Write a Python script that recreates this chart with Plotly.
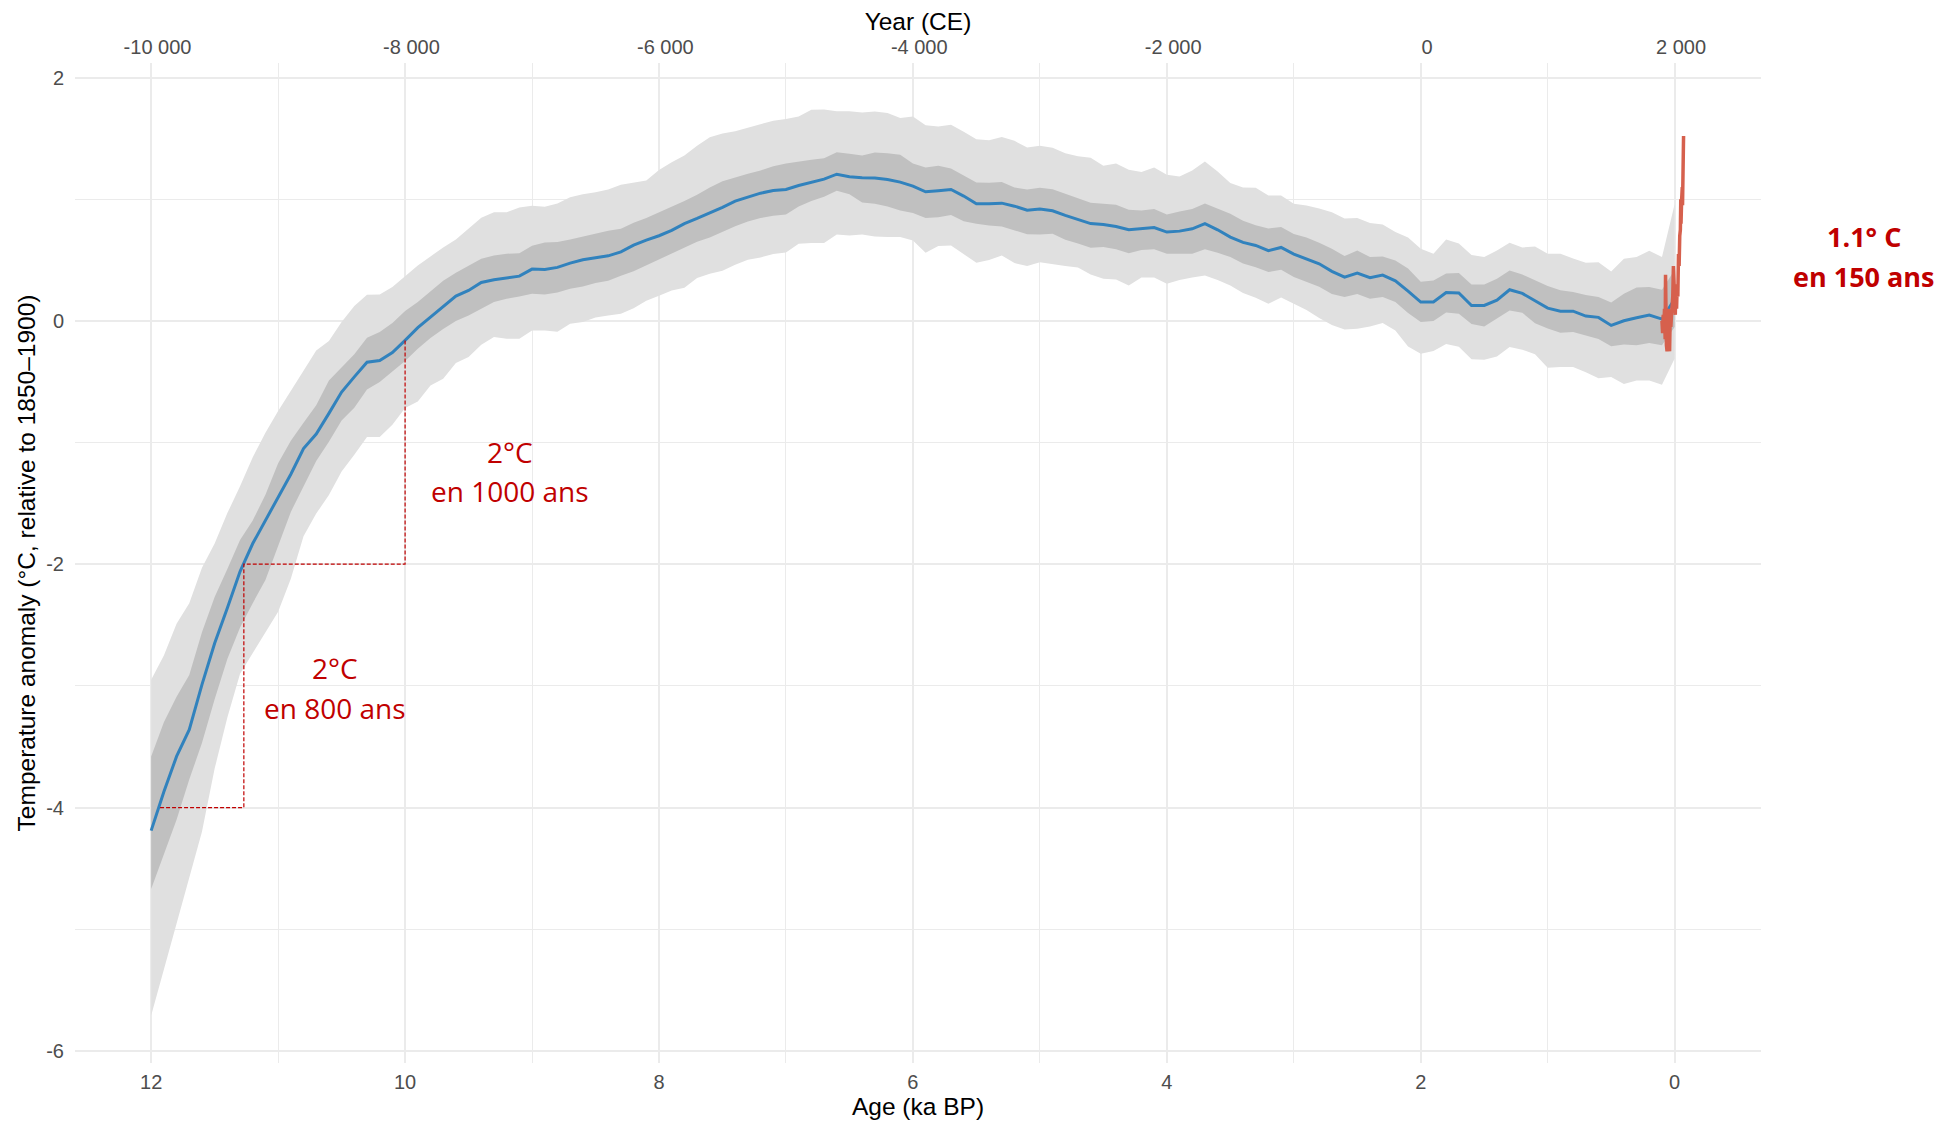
import plotly.graph_objects as go

# ---------------- data ----------------
ka = [round(12.0 - 0.1 * i, 1) for i in range(121)]  # Age (ka BP), 12.0 -> 0.0

temp_median = [
    -4.19, -3.87, -3.58, -3.36, -2.99, -2.65, -2.36, -2.06, -1.83, -1.64,
    -1.46, -1.26, -1.05, -0.93, -0.76, -0.585, -0.46, -0.34, -0.325, -0.26,
    -0.16, -0.056, 0.031, 0.114, 0.204, 0.25, 0.316, 0.338, 0.355, 0.368,
    0.426, 0.423, 0.44, 0.475, 0.503, 0.52, 0.535, 0.568, 0.623, 0.664,
    0.70, 0.744, 0.80, 0.842, 0.886, 0.933, 0.985, 1.02, 1.05, 1.072,
    1.08, 1.113, 1.141, 1.165, 1.206, 1.185, 1.176, 1.174, 1.163, 1.141,
    1.108, 1.061, 1.07, 1.08, 1.026, 0.963, 0.963, 0.968, 0.943, 0.91,
    0.919, 0.905, 0.867, 0.831, 0.80, 0.793, 0.776, 0.749, 0.76, 0.768,
    0.73, 0.738, 0.757, 0.80, 0.749, 0.689, 0.645, 0.62, 0.577, 0.604,
    0.549, 0.511, 0.47, 0.407, 0.36, 0.393, 0.355, 0.377, 0.33, 0.245,
    0.155, 0.155, 0.234, 0.229, 0.127, 0.127, 0.171, 0.256, 0.226, 0.166,
    0.105, 0.08, 0.08, 0.04, 0.029, -0.037, 0.001, 0.026, 0.048, 0.015,
    0.18,
]

outer_upper = [
    -2.95, -2.75, -2.49, -2.32, -2.03, -1.83, -1.58, -1.36, -1.12, -0.92,
    -0.74, -0.57, -0.41, -0.243, -0.166, -0.01, 0.122, 0.215, 0.218, 0.278,
    0.368, 0.456, 0.53, 0.604, 0.67, 0.757, 0.848, 0.894, 0.894, 0.932,
    0.946, 0.938, 0.965, 1.017, 1.042, 1.058, 1.08, 1.119, 1.138, 1.154,
    1.24, 1.305, 1.36, 1.44, 1.51, 1.54, 1.56, 1.59, 1.62, 1.645,
    1.66, 1.68, 1.735, 1.738, 1.724, 1.724, 1.713, 1.721, 1.71, 1.667,
    1.68, 1.609, 1.598, 1.612, 1.554, 1.494, 1.486, 1.511, 1.48, 1.426,
    1.439, 1.423, 1.379, 1.354, 1.341, 1.275, 1.294, 1.242, 1.223, 1.261,
    1.201, 1.187, 1.237, 1.311, 1.228, 1.133, 1.097, 1.094, 1.031, 1.031,
    0.963, 0.949, 0.924, 0.894, 0.842, 0.845, 0.804, 0.793, 0.73, 0.686,
    0.593, 0.552, 0.67, 0.637, 0.541, 0.525, 0.579, 0.642, 0.604, 0.612,
    0.552, 0.552, 0.514, 0.478, 0.483, 0.407, 0.511, 0.525, 0.577, 0.525,
    0.96,
]

inner_upper = [
    -3.58, -3.30, -3.09, -2.91, -2.56, -2.27, -2.04, -1.80, -1.64, -1.43,
    -1.17, -0.985, -0.837, -0.694, -0.489, -0.38, -0.275, -0.138, -0.092, -0.018,
    0.081, 0.155, 0.242, 0.33, 0.396, 0.456, 0.511, 0.538, 0.552, 0.557,
    0.618, 0.645, 0.648, 0.67, 0.694, 0.716, 0.741, 0.757, 0.806, 0.845,
    0.891, 0.935, 0.985, 1.037, 1.097, 1.149, 1.182, 1.209, 1.237, 1.272,
    1.294, 1.311, 1.324, 1.338, 1.387, 1.374, 1.36, 1.385, 1.379, 1.365,
    1.294, 1.261, 1.275, 1.253, 1.196, 1.138, 1.135, 1.141, 1.097, 1.081,
    1.094, 1.083, 1.045, 1.007, 0.971, 0.963, 0.955, 0.913, 0.908, 0.919,
    0.875, 0.90, 0.919, 0.966, 0.924, 0.881, 0.823, 0.787, 0.76, 0.771,
    0.715, 0.686, 0.642, 0.593, 0.533, 0.579, 0.525, 0.53, 0.497, 0.431,
    0.322, 0.333, 0.39, 0.393, 0.30, 0.30, 0.346, 0.415, 0.382, 0.333,
    0.286, 0.251, 0.237, 0.212, 0.196, 0.152, 0.223, 0.275, 0.278, 0.256,
    0.42,
]

inner_lower = [
    -4.67, -4.39, -4.10, -3.77, -3.47, -3.11, -2.78, -2.52, -2.32, -2.13,
    -1.85, -1.57, -1.36, -1.152, -0.993, -0.818, -0.714, -0.563, -0.503, -0.415,
    -0.33, -0.229, -0.141, -0.067, -0.001, 0.045, 0.10, 0.155, 0.182, 0.201,
    0.223, 0.218, 0.234, 0.264, 0.283, 0.311, 0.33, 0.371, 0.409, 0.453,
    0.508, 0.552, 0.601, 0.65, 0.686, 0.733, 0.779, 0.817, 0.845, 0.864,
    0.875, 0.94, 0.985, 1.02, 1.07, 1.042, 0.974, 0.963, 0.941, 0.908,
    0.886, 0.845, 0.853, 0.87, 0.82, 0.798, 0.785, 0.776, 0.746, 0.713,
    0.711, 0.716, 0.667, 0.637, 0.601, 0.607, 0.588, 0.557, 0.582, 0.59,
    0.552, 0.552, 0.552, 0.588, 0.56, 0.525, 0.472, 0.442, 0.401, 0.42,
    0.36, 0.322, 0.281, 0.221, 0.196, 0.221, 0.182, 0.196, 0.155, 0.064,
    -0.01, -0.001, 0.07, 0.059, -0.026, -0.045, 0.018, 0.086, 0.067, -0.02,
    -0.062, -0.097, -0.092, -0.122, -0.149, -0.209, -0.193, -0.201, -0.182, -0.201,
    -0.05,
]

outer_lower = [
    -5.71, -5.35, -4.95, -4.58, -4.20, -3.68, -3.26, -2.90, -2.73, -2.56,
    -2.39, -2.12, -1.77, -1.584, -1.431, -1.237, -1.10, -0.955, -0.955, -0.853,
    -0.716, -0.662, -0.53, -0.475, -0.347, -0.297, -0.196, -0.133, -0.147, -0.147,
    -0.078, -0.078, -0.089, -0.023, -0.01, 0.029, 0.045, 0.059, 0.105, 0.166,
    0.207, 0.25, 0.272, 0.352, 0.387, 0.412, 0.461, 0.502, 0.522, 0.549,
    0.563, 0.635, 0.64, 0.64, 0.711, 0.703, 0.711, 0.694, 0.689, 0.689,
    0.661, 0.56, 0.615, 0.62, 0.549, 0.478, 0.50, 0.538, 0.475, 0.451,
    0.483, 0.47, 0.451, 0.44, 0.382, 0.347, 0.341, 0.292, 0.357, 0.357,
    0.305, 0.336, 0.357, 0.374, 0.336, 0.292, 0.229, 0.19, 0.141, 0.193,
    0.143, 0.089, 0.023, -0.034, -0.07, -0.064, -0.045, -0.018, -0.078, -0.21,
    -0.27, -0.248, -0.19, -0.212, -0.316, -0.319, -0.292, -0.215, -0.237, -0.275,
    -0.385, -0.379, -0.379, -0.423, -0.472, -0.461, -0.519, -0.489, -0.489, -0.524,
    -0.31,
]

# Instrumental record (Year CE, anomaly vs 1850-1900)
obs_year = [1850, 1855, 1860, 1865, 1870, 1875, 1878, 1880, 1885, 1890,
            1895, 1900, 1905, 1910, 1915, 1920, 1925, 1930, 1935, 1940,
            1945, 1950, 1955, 1960, 1965, 1970, 1975, 1980, 1985, 1990,
            1995, 1998, 2000, 2005, 2010, 2012, 2015, 2016, 2018, 2020]
obs_temp = [0.0, -0.1, 0.05, -0.05, 0.1, -0.15, 0.38, 0.05, -0.2, -0.25,
            -0.05, 0.1, -0.2, -0.25, 0.05, -0.05, 0.05, 0.1, 0.2, 0.45,
            0.3, 0.1, 0.05, 0.3, 0.1, 0.3, 0.2, 0.55, 0.45, 0.7,
            0.75, 1.0, 0.8, 1.0, 1.1, 0.95, 1.25, 1.4, 1.2, 1.52]

# Annotation guide steps (ka, °C)
guide_ka = [11.93, 11.27, 11.27, 10.0, 10.0]
guide_temp = [-4.0, -4.0, -2.0, -2.0, -0.16]

x_ticks = [12, 10, 8, 6, 4, 2, 0]
x_minor = [11, 9, 7, 5, 3, 1]
y_ticks = [-6, -4, -2, 0, 2]
y_minor = [-5, -3, -1, 1]
ce_ticks = [-10000, -8000, -6000, -4000, -2000, 0, 2000]
ce_labels = ["-10 000", "-8 000", "-6 000", "-4 000", "-2 000", "0", "2 000"]

X_RANGE = [12.6, -0.68]
Y_RANGE = [-6.1, 2.12]

# ---------------- figure ----------------
LIGHT = "#E0E0E0"
DARK = "#C0C0C0"
GRID = "#EBEBEB"
RED_TXT = "#C00000"

fig = go.Figure()

fig.add_trace(go.Scatter(
    x=ka + ka[::-1], y=outer_upper + outer_lower[::-1],
    fill="toself", fillcolor=LIGHT, line=dict(width=0), mode="lines",
    hoverinfo="skip", showlegend=False))
fig.add_trace(go.Scatter(
    x=ka + ka[::-1], y=inner_upper + inner_lower[::-1],
    fill="toself", fillcolor=DARK, line=dict(width=0), mode="lines",
    hoverinfo="skip", showlegend=False))
fig.add_trace(go.Scatter(
    x=ka, y=temp_median, mode="lines",
    line=dict(color="#3182BD", width=3), showlegend=False))

obs_ka = [(1950 - y) / 1000 for y in obs_year]
fig.add_trace(go.Scatter(
    x=obs_ka, y=obs_temp, mode="lines",
    line=dict(color="#D6604D", width=3.5), showlegend=False))

fig.add_trace(go.Scatter(
    x=guide_ka, y=guide_temp, mode="lines",
    line=dict(color=RED_TXT, width=1.2, dash="4px,2px"),
    hoverinfo="skip", showlegend=False))

# invisible trace to activate the top (Year CE) axis
fig.add_trace(go.Scatter(
    x=[1950 - X_RANGE[0] * 1000, 1950 - X_RANGE[1] * 1000], y=[0, 0],
    xaxis="x2", mode="lines", line=dict(width=0), opacity=0,
    hoverinfo="skip", showlegend=False))

tick_font = dict(family="Liberation Sans, Arial, sans-serif", size=20, color="#4D4D4D")
title_font = dict(family="Liberation Sans, Arial, sans-serif", size=24.5, color="#000000")

fig.update_layout(
    width=1937, height=1114,
    margin=dict(l=67, r=184, t=55, b=59),
    paper_bgcolor="white", plot_bgcolor="white",
    showlegend=False,
    xaxis=dict(
        range=X_RANGE, tickmode="array", tickvals=x_ticks,
        ticktext=[str(v) for v in x_ticks],
        showgrid=True, gridcolor=GRID, gridwidth=2,
        minor=dict(tickmode="array", tickvals=x_minor, showgrid=True,
                   gridcolor=GRID, gridwidth=1, ticks=""),
        zeroline=False, showline=False, ticks="",
        tickfont=tick_font, automargin=False, ticklabelstandoff=5,
        title=dict(text="Age (ka BP)", font=title_font, standoff=5),
    ),
    xaxis2=dict(
        overlaying="x", side="top", anchor="y",
        range=[1950 - X_RANGE[0] * 1000, 1950 - X_RANGE[1] * 1000],
        tickmode="array", tickvals=ce_ticks, ticktext=ce_labels,
        showgrid=False, zeroline=False, showline=False, ticks="",
        tickfont=tick_font, automargin=False, ticklabelstandoff=4,
        title=dict(text="Year (CE)", font=title_font, standoff=0),
    ),
    yaxis=dict(
        range=Y_RANGE, tickmode="array", tickvals=y_ticks,
        ticktext=[str(v) for v in y_ticks],
        showgrid=True, gridcolor=GRID, gridwidth=2,
        minor=dict(tickmode="array", tickvals=y_minor, showgrid=True,
                   gridcolor=GRID, gridwidth=1, ticks=""),
        zeroline=False, showline=False, ticks="",
        tickfont=tick_font, automargin=False, ticklabelstandoff=10,
        title=dict(text="Temperature anomaly (°C, relative to 1850–1900)",
                   font=title_font, standoff=3),
    ),
)

ann_font = dict(family="Open Sans, sans-serif", size=28, color=RED_TXT)
ann_bold = dict(family="Open Sans, sans-serif", size=27, color=RED_TXT)

annotations = [
    # (text, x, xref, y, font, bold)
    ("2°C", 9.17, "x", -1.08, ann_font),
    ("en 1000 ans", 9.17, "x", -1.40, ann_font),
    ("2°C", 10.55, "x", -2.85, ann_font),
    ("en 800 ans", 10.55, "x", -3.18, ann_font),
    ("<b>1.1° C</b>", 1.0613, "paper", 0.697, ann_bold),
    ("<b>en 150 ans</b>", 1.0613, "paper", 0.361, ann_bold),
]
for text, ax, axref, ay, fnt in annotations:
    fig.add_annotation(x=ax, y=ay, xref=axref, yref="y", text=text,
                       showarrow=False, font=fnt, align="center",
                       xanchor="center", yanchor="middle")

fig.write_html("out.html")
